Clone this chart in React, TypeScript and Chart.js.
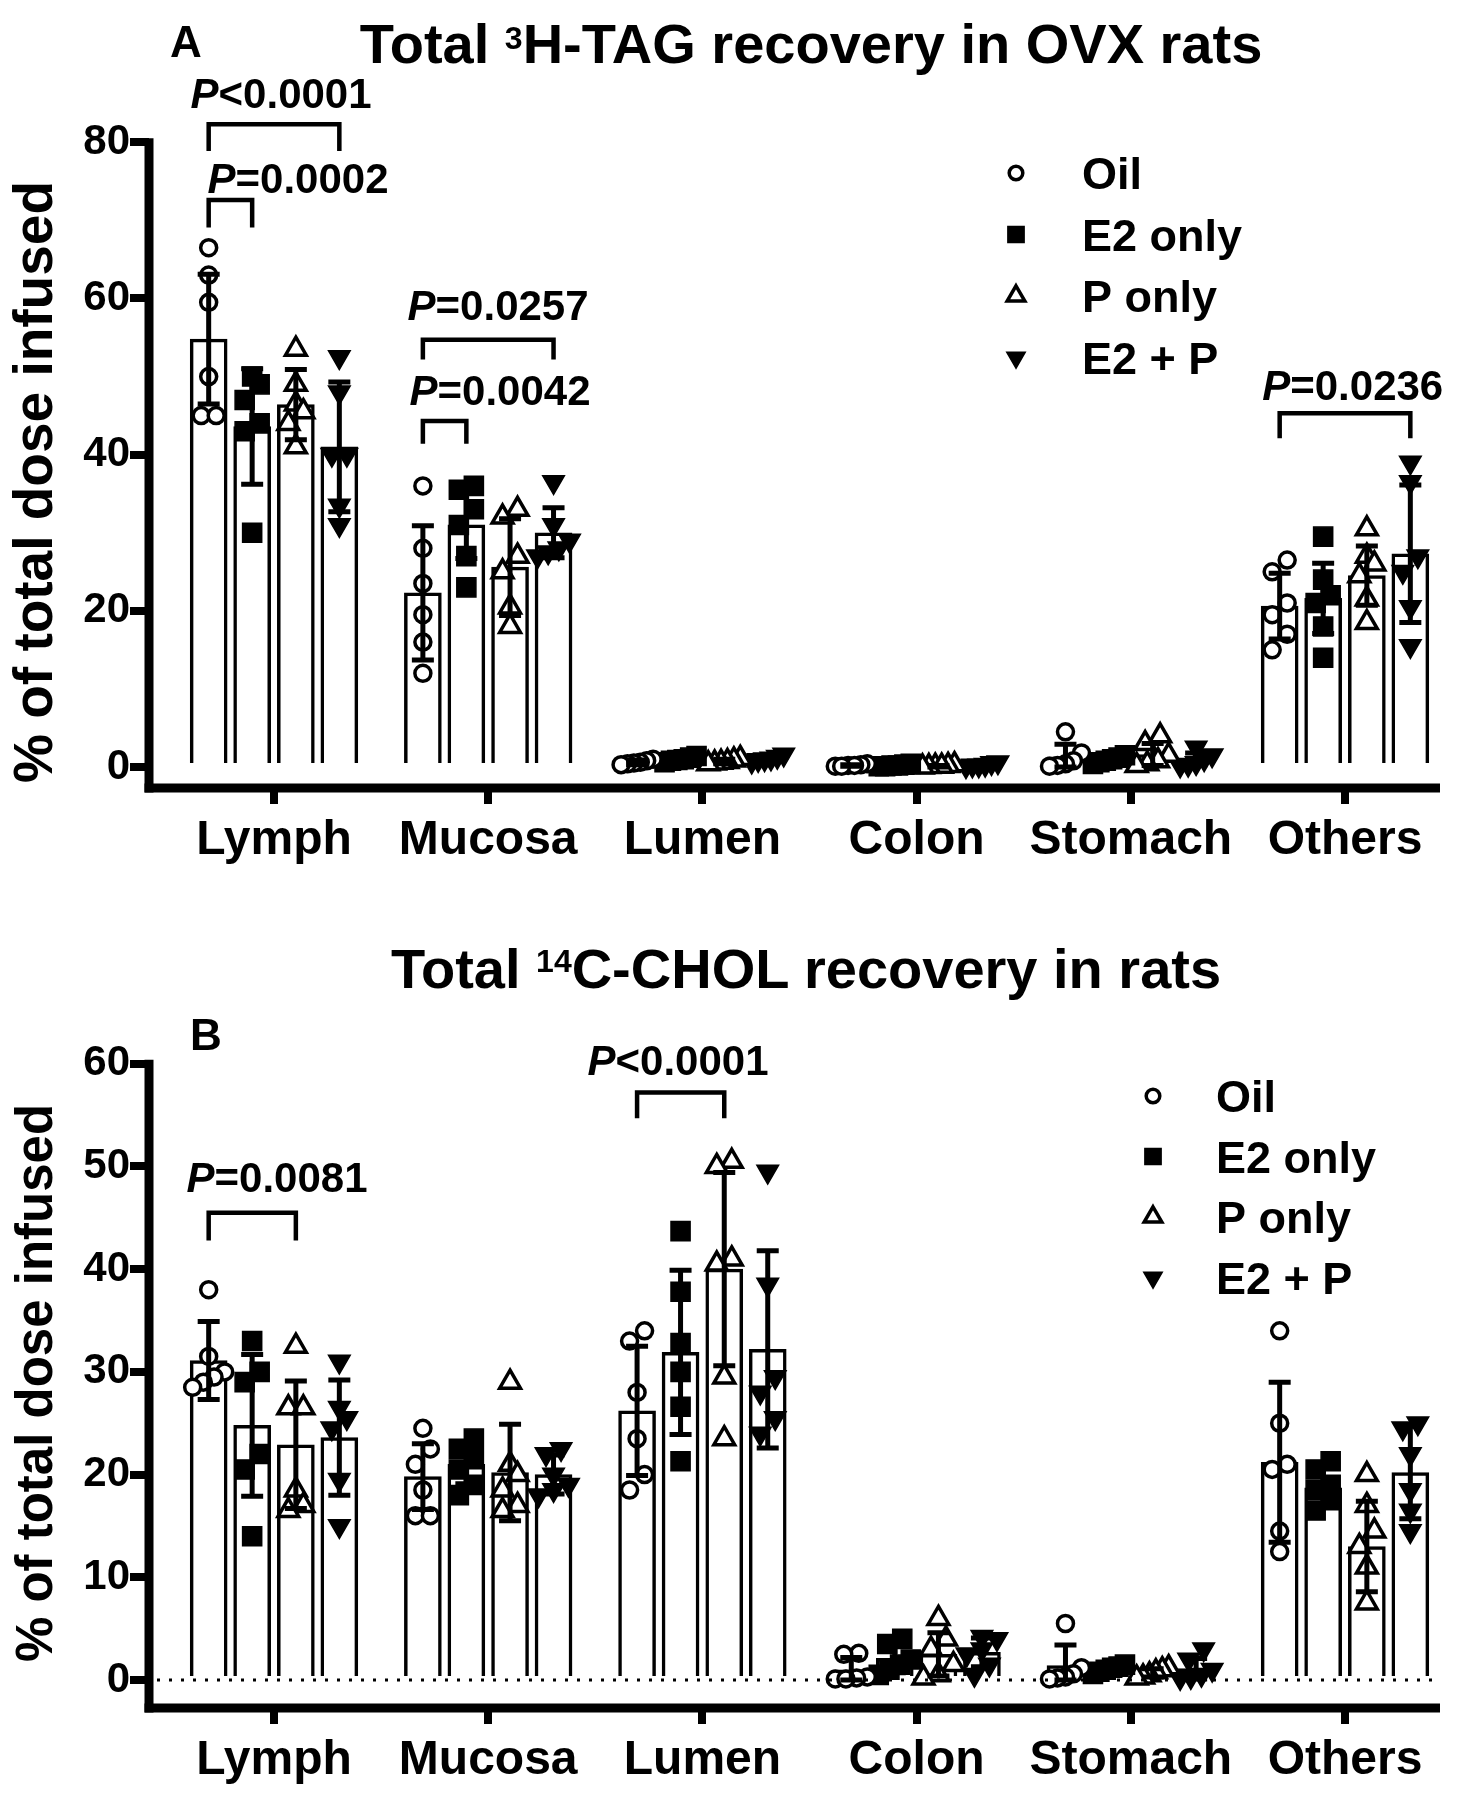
import React, { useEffect, useRef } from 'react';
import { Chart, registerables } from 'chart.js';
import { drawPoint } from 'chart.js/helpers';

Chart.register(...registerables);

const FONT = '"Liberation Sans", Arial, Helvetica, sans-serif';

// ---------- shared ----------
const categories = ['Lymph', 'Mucosa', 'Lumen', 'Colon', 'Stomach', 'Others'];
const groupLabels = ['Oil', 'E2 only', 'P only', 'E2 + P'];

// ---------- Panel A: 3H-TAG ----------
const tagYTicks = [0, 20, 40, 60, 80];
const tagMeanOil = [54.8, 22.3, 0.6, 0.2, 1.3, 20.6];
const tagMeanE2 = [43.6, 31.0, 1.0, 0.2, 0.9, 21.6];
const tagMeanP = [46.4, 25.6, 0.7, 0.1, 1.6, 24.5];
const tagMeanE2P = [41.0, 30.0, 1.1, 0.3, 1.0, 27.3];
const tagSdOil = [8.3, 8.6, 0.3, 0.1, 1.6, 4.2];
const tagSdE2 = [7.4, 4.3, 0.3, 0.1, 0.4, 4.5];
const tagSdP = [4.5, 6.2, 0.3, 0.1, 1.4, 3.8];
const tagSdE2P = [8.3, 3.2, 0.3, 0.1, 0.8, 8.8];
const tagPtsOil = [
  [66.5, 63, 59.5, 50, 45, 45],
  [36, 28, 23.5, 19.5, 16, 12],
  [1.0, 0.8, 0.6, 0.5, 0.4, 0.3],
  [0.4, 0.3, 0.2, 0.2, 0.1, 0.1],
  [4.5, 1.8, 0.8, 0.4, 0.2, 0.1],
  [26.5, 25, 21, 19.5, 17, 15],
];
const tagPtsE2 = [
  [50, 49, 47, 44, 43, 30],
  [36, 35.5, 33, 31, 27, 23],
  [1.4, 1.2, 1.0, 0.9, 0.8, 0.6],
  [0.4, 0.3, 0.2, 0.2, 0.1, 0.1],
  [1.5, 1.2, 1.0, 0.8, 0.6, 0.4],
  [29.5, 24, 22, 21, 18, 14],
];
const tagPtsP = [
  [53.5, 49, 46.5, 45.5, 44, 41],
  [33, 32, 27, 25, 20.5, 18],
  [1.1, 0.9, 0.7, 0.6, 0.5, 0.4],
  [0.3, 0.2, 0.1, 0.1, 0.05, 0.0],
  [4, 3, 1.5, 0.8, 0.4, 0.2],
  [30.5, 27, 26, 24.5, 21.5, 18.5],
];
const tagPtsE2P = [
  [52.5, 48, 40, 40, 33.5, 31],
  [36.5, 31, 29, 28, 27.5, 27],
  [1.6, 1.3, 1.1, 1.0, 0.9, 0.7],
  [0.6, 0.5, 0.3, 0.2, 0.2, 0.1],
  [2.5, 1.5, 1.0, 0.5, 0.3, 0.2],
  [39, 36.5, 27, 25, 20.5, 15.5],
];
const tagBrackets = [
  { cat: 0, from: 0, to: 3, y: 82.3, drop: 3.4, label: '<0.0001', labelX: 0.033, labelY: 84.4 },
  { cat: 0, from: 0, to: 1, y: 72.6, drop: 3.5, label: '=0.0002', labelX: 0.112, labelY: 73.5 },
  { cat: 1, from: 0, to: 3, y: 54.7, drop: 2.5, label: '=0.0257', labelX: 1.046, labelY: 57.2 },
  { cat: 1, from: 0, to: 1, y: 44.3, drop: 2.9, label: '=0.0042', labelX: 1.055, labelY: 46.3 },
  { cat: 5, from: 0, to: 3, y: 45.3, drop: 3.2, label: '=0.0236', labelX: 5.036, labelY: 47.0 },
];

// ---------- Panel B: 14C-CHOL ----------
const cholYTicks = [0, 10, 20, 30, 40, 50, 60];
const cholMeanOil = [31.1, 19.8, 26.2, 1.0, 1.4, 21.2];
const cholMeanE2 = [24.8, 21.0, 31.9, 2.1, 1.1, 18.7];
const cholMeanP = [22.9, 20.2, 40.0, 2.5, 0.7, 13.0];
const cholMeanE2P = [23.6, 20.0, 32.2, 2.7, 1.1, 20.2];
const cholSdOil = [3.8, 3.2, 6.3, 1.2, 2.0, 7.8];
const cholSdE2 = [6.9, 1.9, 8.0, 1.4, 0.3, 1.9];
const cholSdP = [6.2, 4.7, 9.4, 2.1, 0.4, 4.4];
const cholSdE2P = [5.6, 1.9, 9.6, 1.4, 1.0, 4.5];
const cholPtsOil = [
  [38, 31.5, 30, 29.5, 29, 28.5],
  [24.5, 22.5, 21, 18.5, 16, 16],
  [34, 33, 28, 23.5, 20, 18.5],
  [2.6, 2.5, 0.3, 0.2, 0.1, 0.1],
  [5.5, 1.2, 0.6, 0.3, 0.2, 0.1],
  [34, 25, 21, 20.5, 14.5, 12.5],
];
const cholPtsE2 = [
  [33, 30, 29, 22, 20.5, 14],
  [23.5, 22.5, 21.5, 20.5, 19, 18],
  [43.7, 37.8, 32.8, 30, 26.6, 21.3],
  [4, 3.5, 2, 1.5, 1, 0.5],
  [1.5, 1.3, 1.2, 1.0, 0.8, 0.6],
  [21.3, 20.5, 19, 18.5, 17.5, 16.5],
];
const cholPtsP = [
  [32.5, 26.5, 26.5, 18.5, 17, 16.5],
  [29, 21, 20, 18.5, 17, 16.5],
  [50.5, 50, 41, 40.5, 29.5, 23.5],
  [6, 4, 3, 1.5, 0.5, 0.2],
  [1.2, 1.0, 0.8, 0.5, 0.3, 0.2],
  [20, 17, 14.5, 13, 11, 7.5],
];
const cholPtsE2P = [
  [31, 26.5, 25.5, 24.5, 19.5, 15],
  [22.5, 22, 20, 19, 18.5, 18],
  [49.5, 38.5, 29.5, 28, 25.5, 24],
  [4.2, 4, 3, 2.5, 1.5, 0.5],
  [3, 2, 1, 0.5, 0.3, 0.2],
  [25, 24.5, 22, 18.5, 16.5, 14.5],
];
const cholBrackets = [
  { cat: 0, from: 0, to: 2, y: 45.5, drop: 2.7, label: '=0.0081', labelX: 0.014, labelY: 47.5 },
  { cat: 2, from: 0, to: 2, y: 57.2, drop: 2.5, label: '<0.0001', labelX: 1.886, labelY: 58.9 },
];

// ---------- layout / style constants ----------
const W = 1477;
const CHART_LEFT = 149;
const PAD_RIGHT = 37;
const X_MIN = -0.5836;
const X_MAX = 5.4435;
const GROUP_OFFSET = [-0.305, -0.102, 0.102, 0.305];
const MARKERS = [
  { pointStyle: 'circle', radius: 8, rotation: 0, fill: '#fff', bw: 3.5 },
  { pointStyle: 'rect', radius: 13.5, rotation: 0, fill: '#000', bw: 1.5 },
  { pointStyle: 'triangle', radius: 12, rotation: 0, fill: '#fff', bw: 3.5 },
  { pointStyle: 'triangle', radius: 12.5, rotation: 180, fill: '#000', bw: 1.5 },
];

type Bracket = { cat: number; from: number; to: number; y: number; drop: number; label: string; labelX: number; labelY: number };
type PanelCfg = {
  height: number; padTop: number; xAxisH: number; yMin: number; yMax: number; yTicks: number[];
  means: number[][]; sds: number[][]; pts: number[][][]; brackets: Bracket[]; dotted: boolean;
  legendY: number; legendStep: number; legendMarkerX: number; legendTextX: number; yTitleY: number; yTitleSize: number;
};

const panelA: PanelCfg = {
  height: 870, padTop: 40, xAxisH: 82, yMin: -2.69, yMax: 93.1, yTicks: tagYTicks,
  means: [tagMeanOil, tagMeanE2, tagMeanP, tagMeanE2P],
  sds: [tagSdOil, tagSdE2, tagSdP, tagSdE2P],
  pts: [tagPtsOil, tagPtsE2, tagPtsP, tagPtsE2P],
  brackets: tagBrackets, dotted: false,
  legendY: 173, legendStep: 61.5, legendMarkerX: 1016, legendTextX: 1082, yTitleY: 482, yTitleSize: 55,
};
const panelB: PanelCfg = {
  height: 930, padTop: 150, xAxisH: 92, yMin: -2.726, yMax: 64.26, yTicks: cholYTicks,
  means: [cholMeanOil, cholMeanE2, cholMeanP, cholMeanE2P],
  sds: [cholSdOil, cholSdE2, cholSdP, cholSdE2P],
  pts: [cholPtsOil, cholPtsE2, cholPtsP, cholPtsE2P],
  brackets: cholBrackets, dotted: true,
  legendY: 226, legendStep: 60.5, legendMarkerX: 1153, legendTextX: 1216, yTitleY: 513, yTitleSize: 51,
};

// beeswarm-like spreading of points that overlap (returns pixel offsets)
function swarm(vals: number[], dUnits: number, stepPx: number, maxHalfPx: number): number[] {
  const idx = vals.map((_, i) => i).sort((a, b) => vals[a] - vals[b]);
  const offs = new Array(vals.length).fill(0);
  let row: number[] = [];
  let start = -Infinity;
  const flush = () => {
    const k = row.length;
    const step = k > 1 ? Math.min(stepPx, (2 * maxHalfPx) / (k - 1)) : 0;
    row.forEach((id, j) => { offs[id] = (j - (k - 1) / 2) * step; });
    row = [];
  };
  for (const id of idx) {
    if (row.length && vals[id] - start >= dUnits) flush();
    if (!row.length) start = vals[id];
    row.push(id);
  }
  flush();
  return offs;
}

function makeChart(canvas: HTMLCanvasElement, cfg: PanelCfg) {
  const pxPerCat = (W - PAD_RIGHT - CHART_LEFT) / (X_MAX - X_MIN);
  const pxPerY = (cfg.height - cfg.xAxisH - cfg.padTop) / (cfg.yMax - cfg.yMin);
  const yTop = cfg.yTicks[cfg.yTicks.length - 1];

  const barSets = cfg.means.map((arr, g) => ({
    type: 'bar' as const,
    label: groupLabels[g] + ' mean',
    data: arr.map((m, i) => ({ x: i + GROUP_OFFSET[g], y: m })),
    backgroundColor: '#ffffff',
    borderColor: '#000000',
    borderWidth: 3.5,
    barThickness: 37,
    grouped: false,
    order: 3,
  }));

  const ptSets = cfg.pts.map((cats, g) => ({
    type: 'scatter' as const,
    label: groupLabels[g],
    data: cats.flatMap((vals, i) => {
      const offs = swarm(vals, 16 / pxPerY, 15, 16);
      return vals.map((v, k) => ({ x: i + GROUP_OFFSET[g] + offs[k] / pxPerCat, y: v }));
    }),
    pointStyle: MARKERS[g].pointStyle,
    pointRadius: MARKERS[g].radius,
    pointRotation: MARKERS[g].rotation,
    pointBackgroundColor: MARKERS[g].fill,
    pointBorderColor: '#000000',
    pointBorderWidth: MARKERS[g].bw,
    order: 1,
  }));

  const deco = {
    id: 'deco',
    afterDatasetsDraw(chart: any) {
      const ctx: CanvasRenderingContext2D = chart.ctx;
      const xs = chart.scales.x;
      const ys = chart.scales.y;
      const { left, right, bottom } = chart.chartArea;
      ctx.save();
      ctx.strokeStyle = '#000';
      ctx.fillStyle = '#000';

      // dotted zero line
      if (cfg.dotted) {
        ctx.save();
        ctx.setLineDash([3, 9]);
        ctx.lineWidth = 3;
        const y0 = ys.getPixelForValue(0);
        ctx.beginPath();
        ctx.moveTo(left + 8, y0);
        ctx.lineTo(right, y0);
        ctx.stroke();
        ctx.restore();
      }

      // error bars (mean ± SD)
      ctx.lineWidth = 5;
      ctx.lineCap = 'butt';
      cfg.means.forEach((arr, g) => {
        arr.forEach((m, i) => {
          const sd = cfg.sds[g][i];
          const x = xs.getPixelForValue(i + GROUP_OFFSET[g]);
          const yHi = ys.getPixelForValue(m + sd);
          const yLo = ys.getPixelForValue(Math.max(0, m - sd));
          ctx.beginPath();
          ctx.moveTo(x, yHi);
          ctx.lineTo(x, yLo);
          ctx.moveTo(x - 11, yHi);
          ctx.lineTo(x + 11, yHi);
          ctx.moveTo(x - 11, yLo);
          ctx.lineTo(x + 11, yLo);
          ctx.stroke();
        });
      });

      // axis lines
      ctx.lineWidth = 9;
      ctx.beginPath();
      ctx.moveTo(left, ys.getPixelForValue(yTop) - 4);
      ctx.lineTo(left, bottom + 4.5);
      ctx.stroke();
      ctx.beginPath();
      ctx.moveTo(left - 4.5, bottom);
      ctx.lineTo(right, bottom);
      ctx.stroke();

      // significance brackets
      ctx.lineWidth = 4.5;
      ctx.lineJoin = 'miter';
      ctx.textAlign = 'left';
      ctx.textBaseline = 'alphabetic';
      cfg.brackets.forEach((b) => {
        const x1 = xs.getPixelForValue(b.cat + GROUP_OFFSET[b.from]);
        const x2 = xs.getPixelForValue(b.cat + GROUP_OFFSET[b.to]);
        const yl = ys.getPixelForValue(b.y);
        const yd = ys.getPixelForValue(b.y - b.drop);
        ctx.beginPath();
        ctx.moveTo(x1, yd);
        ctx.lineTo(x1, yl);
        ctx.lineTo(x2, yl);
        ctx.lineTo(x2, yd);
        ctx.stroke();
        const cx = xs.getPixelForValue(b.labelX);
        const by = ys.getPixelForValue(b.labelY);
        ctx.font = `italic bold 42px ${FONT}`;
        const wP = ctx.measureText('P').width;
        ctx.font = `bold 42px ${FONT}`;
        const wR = ctx.measureText(b.label).width;
        const sx = cx - (wP + wR) / 2;
        ctx.font = `italic bold 42px ${FONT}`;
        ctx.fillText('P', sx, by);
        ctx.font = `bold 42px ${FONT}`;
        ctx.fillText(b.label, sx + wP, by);
      });

      // legend
      groupLabels.forEach((lab, g) => {
        const y = cfg.legendY + g * cfg.legendStep;
        const m = MARKERS[g];
        ctx.fillStyle = m.fill;
        ctx.strokeStyle = '#000';
        ctx.lineWidth = m.bw;
        drawPoint(ctx, { pointStyle: m.pointStyle as any, radius: m.radius * 0.85, rotation: m.rotation, borderWidth: m.bw }, cfg.legendMarkerX, y);
        ctx.fillStyle = '#000';
        ctx.font = `bold 45px ${FONT}`;
        ctx.fillText(lab, cfg.legendTextX, y + 16);
      });

      // y-axis title
      ctx.save();
      ctx.translate(52, cfg.yTitleY);
      ctx.rotate(-Math.PI / 2);
      ctx.font = `bold ${cfg.yTitleSize}px ${FONT}`;
      ctx.textAlign = 'center';
      ctx.fillStyle = '#000';
      ctx.fillText('% of total dose infused', 0, 0);
      ctx.restore();

      ctx.restore();
    },
  };

  return new Chart(canvas, {
    type: 'bar',
    data: { datasets: [...barSets, ...ptSets] as any },
    options: {
      responsive: false,
      animation: false,
      events: [],
      layout: { padding: { top: cfg.padTop, right: PAD_RIGHT, left: 0, bottom: 0 } },
      plugins: { legend: { display: false }, tooltip: { enabled: false }, title: { display: false } },
      scales: {
        x: {
          type: 'linear',
          min: X_MIN,
          max: X_MAX,
          offset: false,
          afterFit: (s: any) => { s.height = cfg.xAxisH; },
          afterBuildTicks: (s: any) => { s.ticks = categories.map((_, i) => ({ value: i })); },
          ticks: {
            autoSkip: false,
            maxRotation: 0,
            minRotation: 0,
            padding: 8,
            color: '#000',
            font: { family: FONT, size: 48, weight: 'bold' },
            callback: (_v: any, i: number) => categories[i],
          },
          grid: { display: true, drawOnChartArea: false, drawTicks: true, tickLength: 16, tickWidth: 8, tickColor: '#000', color: '#000', lineWidth: 8, offset: false },
          border: { display: false },
        },
        y: {
          type: 'linear',
          min: cfg.yMin,
          max: cfg.yMax,
          afterFit: (s: any) => { s.width = CHART_LEFT; },
          afterBuildTicks: (s: any) => { s.ticks = cfg.yTicks.map((v) => ({ value: v })); },
          ticks: {
            padding: 0,
            color: '#000',
            font: { family: FONT, size: 42, weight: 'bold' },
            callback: (v: any) => String(v),
          },
          grid: { display: true, drawOnChartArea: false, drawTicks: true, tickLength: 19, tickWidth: 8, tickColor: '#000', color: '#000', lineWidth: 8 },
          border: { display: false },
        },
      },
    } as any,
    plugins: [deco],
  });
}

function PanelChart({ cfg, top }: { cfg: PanelCfg; top: number }) {
  const ref = useRef<HTMLCanvasElement>(null);
  useEffect(() => {
    const chart = makeChart(ref.current as HTMLCanvasElement, cfg);
    return () => chart.destroy();
  }, [cfg]);
  return (
    <canvas
      ref={ref}
      width={W}
      height={cfg.height}
      style={{ position: 'absolute', left: 0, top, width: W, height: cfg.height, display: 'block' }}
    />
  );
}

const textBase: React.CSSProperties = {
  position: 'absolute',
  whiteSpace: 'nowrap',
  fontFamily: FONT,
  fontWeight: 'bold',
  color: '#000',
};

export default function App() {
  return (
    <div style={{ position: 'absolute', left: 0, top: 0, width: W, height: 1800, background: '#fff', overflow: 'hidden' }}>
      <PanelChart cfg={panelA} top={0} />
      <PanelChart cfg={panelB} top={870} />
      <div style={{ ...textBase, left: 811, top: 16, transform: 'translateX(-50%)', fontSize: 56, lineHeight: '56px' }}>
        Total <span style={{ fontSize: 32, position: 'relative', top: -14 }}>3</span>H-TAG recovery in OVX rats
      </div>
      <div style={{ ...textBase, left: 806, top: 941, transform: 'translateX(-50%)', fontSize: 56, lineHeight: '56px' }}>
        Total <span style={{ fontSize: 32, position: 'relative', top: -16 }}>14</span>C-CHOL recovery in rats
      </div>
      <div style={{ ...textBase, left: 170, top: 20, fontSize: 44, lineHeight: '44px' }}>A</div>
      <div style={{ ...textBase, left: 190, top: 1013, fontSize: 44, lineHeight: '44px' }}>B</div>
    </div>
  );
}
